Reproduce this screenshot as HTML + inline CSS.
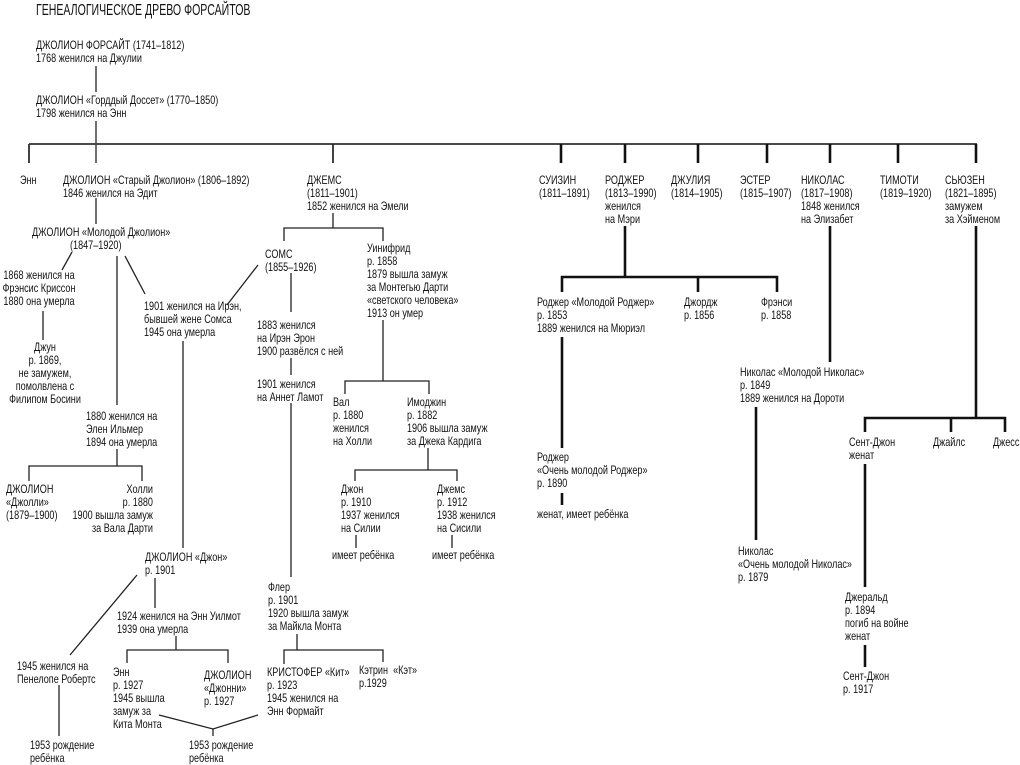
<!DOCTYPE html>
<html>
<head>
<meta charset="utf-8">
<style>
html,body{margin:0;padding:0;background:#fff;}
svg{display:block;}
text{font-family:"Liberation Sans","Noto Sans CJK SC",sans-serif;font-size:11.5px;fill:#111;}
.t{font-size:16px;}
.l{stroke:#222;stroke-width:1.3;fill:none;}
.m{stroke:#4a4a4a;stroke-width:2;fill:none;}
.d{stroke:#222;stroke-width:1.7;fill:none;}
.k{stroke:#111;stroke-width:2.6;fill:none;}
</style>
</head>
<body>
<svg width="1020" height="765" viewBox="0 0 1020 765" xmlns="http://www.w3.org/2000/svg">
<rect width="1020" height="765" fill="#fff"/>

<!-- LINES -->
<g>
<line class="l" x1="96" y1="66" x2="96" y2="92"/>
<line class="l" x1="96" y1="121" x2="96" y2="163"/>
<line class="m" x1="29" y1="144" x2="977" y2="144"/>
<line class="d" x1="29" y1="144" x2="29" y2="163"/>
<line class="d" x1="333" y1="144" x2="333" y2="163"/>
<line class="k" x1="561" y1="144" x2="561" y2="163"/>
<line class="k" x1="625" y1="144" x2="625" y2="163"/>
<line class="k" x1="698" y1="144" x2="698" y2="163"/>
<line class="k" x1="767" y1="144" x2="767" y2="163"/>
<line class="k" x1="830" y1="144" x2="830" y2="163"/>
<line class="k" x1="898" y1="144" x2="898" y2="163"/>
<line class="k" x1="976" y1="144" x2="976" y2="163"/>

<!-- Old Jolyon -->
<line class="l" x1="96" y1="198" x2="96" y2="224"/>
<line class="l" x1="72" y1="252" x2="62" y2="270"/>
<line class="l" x1="117" y1="256" x2="117" y2="405"/>
<line class="l" x1="125" y1="256" x2="145" y2="294"/>
<line class="l" x1="43" y1="311" x2="43" y2="340"/>
<line class="l" x1="258" y1="265" x2="227" y2="305"/>
<line class="l" x1="183" y1="341" x2="183" y2="548"/>
<line class="l" x1="117" y1="449" x2="117" y2="466"/>
<polyline class="l" points="29,481 29,466 142,466 142,481"/>

<!-- Jon -->
<line class="l" x1="137" y1="575" x2="70" y2="655"/>
<line class="l" x1="155" y1="578" x2="155" y2="608"/>
<line class="l" x1="176" y1="636" x2="176" y2="650"/>
<polyline class="l" points="127,663 127,650 228,650 228,663"/>
<line class="l" x1="59" y1="685" x2="59" y2="736"/>
<polyline class="l" points="159,715 213,729 258,715"/>
<line class="l" x1="213" y1="729" x2="213" y2="736"/>

<!-- James -->
<line class="l" x1="333" y1="213" x2="333" y2="228"/>
<polyline class="l" points="284,241 284,228 383,228 383,241"/>
<line class="l" x1="291" y1="273" x2="291" y2="312"/>
<line class="l" x1="291" y1="358" x2="291" y2="375"/>
<line class="l" x1="291" y1="403" x2="291" y2="577"/>
<line class="l" x1="383" y1="320" x2="383" y2="381"/>
<polyline class="l" points="345,394 345,381 429,381 429,394"/>
<line class="l" x1="428" y1="448" x2="428" y2="470"/>
<polyline class="l" points="355,481 355,470 457,470 457,481"/>
<line class="l" x1="356" y1="535" x2="356" y2="548"/>
<line class="l" x1="452" y1="535" x2="452" y2="548"/>
<line class="l" x1="297" y1="634" x2="297" y2="650"/>
<polyline class="l" points="284,664 284,650 383,650 383,662"/>

<!-- Roger -->
<line class="k" x1="625" y1="226" x2="625" y2="277"/>
<polyline class="k" points="562,292 562,277 777,277 777,292"/>
<line class="k" x1="698" y1="277" x2="698" y2="292"/>
<line class="k" x1="562" y1="337" x2="562" y2="448"/>
<line class="k" x1="562" y1="493" x2="562" y2="505"/>

<!-- Nicholas -->
<line class="k" x1="830" y1="226" x2="830" y2="362"/>
<line class="k" x1="756" y1="407" x2="756" y2="540"/>

<!-- Susan -->
<line class="k" x1="976" y1="226" x2="976" y2="418"/>
<polyline class="k" points="865,432 865,418 1005,418 1005,432"/>
<line class="k" x1="951" y1="418" x2="951" y2="432"/>
<line class="k" x1="865" y1="464" x2="865" y2="587"/>
<line class="k" x1="865" y1="645" x2="865" y2="667"/>
</g>

<!-- TEXT -->
<text class="t" transform="translate(36,15) scale(.66,1)">ГЕНЕАЛОГИЧЕСКОЕ ДРЕВО ФОРСАЙТОВ</text>

<text transform="translate(36,49) scale(.79,1)"><tspan x="0">ДЖОЛИОН ФОРСАЙТ (1741–1812)</tspan><tspan x="0" dy="13">1768 женился на Джулии</tspan></text>
<text transform="translate(36,104) scale(.79,1)"><tspan x="0">ДЖОЛИОН «Горддый Доссет» (1770–1850)</tspan><tspan x="0" dy="13">1798 женился на Энн</tspan></text>

<text transform="translate(20,184) scale(.79,1)">Энн</text>
<text transform="translate(63,184) scale(.79,1)"><tspan x="0">ДЖОЛИОН «Старый Джолион» (1806–1892)</tspan><tspan x="0" dy="13">1846 женился на Эдит</tspan></text>
<text transform="translate(307,184) scale(.79,1)"><tspan x="0">ДЖЕМС</tspan><tspan x="0" dy="13">(1811–1901)</tspan><tspan x="0" dy="13">1852 женился на Эмели</tspan></text>
<text transform="translate(539,184) scale(.79,1)"><tspan x="0">СУИЗИН</tspan><tspan x="0" dy="13">(1811–1891)</tspan></text>
<text transform="translate(605,184) scale(.79,1)"><tspan x="0">РОДЖЕР</tspan><tspan x="0" dy="13">(1813–1990)</tspan><tspan x="0" dy="13">женился</tspan><tspan x="0" dy="13">на Мэри</tspan></text>
<text transform="translate(671,184) scale(.79,1)"><tspan x="0">ДЖУЛИЯ</tspan><tspan x="0" dy="13">(1814–1905)</tspan></text>
<text transform="translate(740,184) scale(.79,1)"><tspan x="0">ЭСТЕР</tspan><tspan x="0" dy="13">(1815–1907)</tspan></text>
<text transform="translate(801,184) scale(.79,1)"><tspan x="0">НИКОЛАС</tspan><tspan x="0" dy="13">(1817–1908)</tspan><tspan x="0" dy="13">1848 женился</tspan><tspan x="0" dy="13">на Элизабет</tspan></text>
<text transform="translate(880,184) scale(.79,1)"><tspan x="0">ТИМОТИ</tspan><tspan x="0" dy="13">(1819–1920)</tspan></text>
<text transform="translate(945,184) scale(.79,1)"><tspan x="0">СЬЮЗЕН</tspan><tspan x="0" dy="13">(1821–1895)</tspan><tspan x="0" dy="13">замужем</tspan><tspan x="0" dy="13">за Хэйменом</tspan></text>

<!-- Young Jolyon -->
<text transform="translate(32,236) scale(.79,1)">ДЖОЛИОН «Молодой Джолион»</text>
<text transform="translate(70,249) scale(.79,1)">(1847–1920)</text>
<text text-anchor="middle" transform="translate(39,279) scale(.79,1)"><tspan x="0">1868 женился на</tspan><tspan x="0" dy="13">Фрэнсис Криссон</tspan><tspan x="0" dy="13">1880 она умерла</tspan></text>
<text text-anchor="middle" transform="translate(45,351) scale(.79,1)"><tspan x="0">Джун</tspan><tspan x="0" dy="13">р. 1869,</tspan><tspan x="0" dy="13">не замужем,</tspan><tspan x="0" dy="13">помолвлена с</tspan><tspan x="0" dy="13">Филипом Босини</tspan></text>
<text transform="translate(144,310) scale(.79,1)"><tspan x="0">1901 женился на Ирэн,</tspan><tspan x="0" dy="13">бывшей жене Сомса</tspan><tspan x="0" dy="13">1945 она умерла</tspan></text>
<text transform="translate(86,420) scale(.79,1)"><tspan x="0">1880 женился на</tspan><tspan x="0" dy="13">Элен Ильмер</tspan><tspan x="0" dy="13">1894 она умерла</tspan></text>
<text transform="translate(6,493) scale(.79,1)"><tspan x="0">ДЖОЛИОН</tspan><tspan x="0" dy="13">«Джолли»</tspan><tspan x="0" dy="13">(1879–1900)</tspan></text>
<text text-anchor="end" transform="translate(153,493) scale(.79,1)"><tspan x="0">Холли</tspan><tspan x="0" dy="13">р. 1880</tspan><tspan x="0" dy="13">1900 вышла замуж</tspan><tspan x="0" dy="13">за Вала Дарти</tspan></text>

<!-- Jon -->
<text transform="translate(145,561) scale(.79,1)"><tspan x="0">ДЖОЛИОН «Джон»</tspan><tspan x="0" dy="13">р. 1901</tspan></text>
<text transform="translate(117,620) scale(.79,1)"><tspan x="0">1924 женился на Энн Уилмот</tspan><tspan x="0" dy="13">1939 она умерла</tspan></text>
<text transform="translate(17,670) scale(.79,1)"><tspan x="0">1945 женился на</tspan><tspan x="0" dy="13">Пенелопе Робертс</tspan></text>
<text transform="translate(30,749) scale(.79,1)"><tspan x="0">1953 рождение</tspan><tspan x="0" dy="13">ребёнка</tspan></text>
<text transform="translate(113,676) scale(.79,1)"><tspan x="0">Энн</tspan><tspan x="0" dy="13">р. 1927</tspan><tspan x="0" dy="13">1945 вышла</tspan><tspan x="0" dy="13">замуж за</tspan><tspan x="0" dy="13">Кита Монта</tspan></text>
<text transform="translate(204,679) scale(.79,1)"><tspan x="0">ДЖОЛИОН</tspan><tspan x="0" dy="13">«Джонни»</tspan><tspan x="0" dy="13">р. 1927</tspan></text>
<text transform="translate(189,749) scale(.79,1)"><tspan x="0">1953 рождение</tspan><tspan x="0" dy="13">ребёнка</tspan></text>

<!-- James branch -->
<text transform="translate(265,258) scale(.79,1)"><tspan x="0">СОМС</tspan><tspan x="0" dy="13">(1855–1926)</tspan></text>
<text transform="translate(367,252) scale(.79,1)"><tspan x="0">Уинифрид</tspan><tspan x="0" dy="13">р. 1858</tspan><tspan x="0" dy="13">1879 вышла замуж</tspan><tspan x="0" dy="13">за Монтегью Дарти</tspan><tspan x="0" dy="13">«светского человека»</tspan><tspan x="0" dy="13">1913 он умер</tspan></text>
<text transform="translate(257,329) scale(.79,1)"><tspan x="0">1883 женился</tspan><tspan x="0" dy="13">на Ирэн Эрон</tspan><tspan x="0" dy="13">1900 развёлся с ней</tspan></text>
<text transform="translate(257,388) scale(.79,1)"><tspan x="0">1901 женился</tspan><tspan x="0" dy="13">на Аннет Ламот</tspan></text>
<text transform="translate(333,406) scale(.79,1)"><tspan x="0">Вал</tspan><tspan x="0" dy="13">р. 1880</tspan><tspan x="0" dy="13">женился</tspan><tspan x="0" dy="13">на Холли</tspan></text>
<text transform="translate(407,406) scale(.79,1)"><tspan x="0">Имоджин</tspan><tspan x="0" dy="13">р. 1882</tspan><tspan x="0" dy="13">1906 вышла замуж</tspan><tspan x="0" dy="13">за Джека Кардига</tspan></text>
<text transform="translate(341,493) scale(.79,1)"><tspan x="0">Джон</tspan><tspan x="0" dy="13">р. 1910</tspan><tspan x="0" dy="13">1937 женился</tspan><tspan x="0" dy="13">на Силии</tspan></text>
<text transform="translate(437,493) scale(.79,1)"><tspan x="0">Джемс</tspan><tspan x="0" dy="13">р. 1912</tspan><tspan x="0" dy="13">1938 женился</tspan><tspan x="0" dy="13">на Сисили</tspan></text>
<text transform="translate(332,559) scale(.79,1)">имеет ребёнка</text>
<text transform="translate(432,559) scale(.79,1)">имеет ребёнка</text>
<text transform="translate(268,591) scale(.79,1)"><tspan x="0">Флер</tspan><tspan x="0" dy="13">р. 1901</tspan><tspan x="0" dy="13">1920 вышла замуж</tspan><tspan x="0" dy="13">за Майкла Монта</tspan></text>
<text transform="translate(267,676) scale(.79,1)"><tspan x="0">КРИСТОФЕР «Кит»</tspan><tspan x="0" dy="13">р. 1923</tspan><tspan x="0" dy="13">1945 женился на</tspan><tspan x="0" dy="13">Энн Формайт</tspan></text>
<text transform="translate(359,674) scale(.79,1)" xml:space="preserve"><tspan x="0">Кэтрин  «Кэт»</tspan><tspan x="0" dy="13">р.1929</tspan></text>

<!-- Roger branch -->
<text transform="translate(537,306) scale(.79,1)"><tspan x="0">Роджер «Молодой Роджер»</tspan><tspan x="0" dy="13">р. 1853</tspan><tspan x="0" dy="13">1889 женился на Мюриэл</tspan></text>
<text transform="translate(684,306) scale(.79,1)"><tspan x="0">Джордж</tspan><tspan x="0" dy="13">р. 1856</tspan></text>
<text transform="translate(761,306) scale(.79,1)"><tspan x="0">Фрэнси</tspan><tspan x="0" dy="13">р. 1858</tspan></text>
<text transform="translate(537,461) scale(.79,1)"><tspan x="0">Роджер</tspan><tspan x="0" dy="13">«Очень молодой Роджер»</tspan><tspan x="0" dy="13">р. 1890</tspan></text>
<text transform="translate(537,518) scale(.79,1)">женат, имеет ребёнка</text>

<!-- Nicholas branch -->
<text transform="translate(740,376) scale(.79,1)"><tspan x="0">Николас «Молодой Николас»</tspan><tspan x="0" dy="13">р. 1849</tspan><tspan x="0" dy="13">1889 женился на Дороти</tspan></text>
<text transform="translate(738,555) scale(.79,1)"><tspan x="0">Николас</tspan><tspan x="0" dy="13">«Очень молодой Николас»</tspan><tspan x="0" dy="13">р. 1879</tspan></text>

<!-- Susan branch -->
<text transform="translate(849,446) scale(.79,1)"><tspan x="0">Сент-Джон</tspan><tspan x="0" dy="13">женат</tspan></text>
<text transform="translate(933,446) scale(.79,1)">Джайлс</text>
<text transform="translate(993,446) scale(.79,1)">Джесс</text>
<text transform="translate(845,601) scale(.79,1)"><tspan x="0">Джеральд</tspan><tspan x="0" dy="13">р. 1894</tspan><tspan x="0" dy="13">погиб на войне</tspan><tspan x="0" dy="13">женат</tspan></text>
<text transform="translate(843,680) scale(.79,1)"><tspan x="0">Сент-Джон</tspan><tspan x="0" dy="13">р. 1917</tspan></text>
</svg>
</body>
</html>
